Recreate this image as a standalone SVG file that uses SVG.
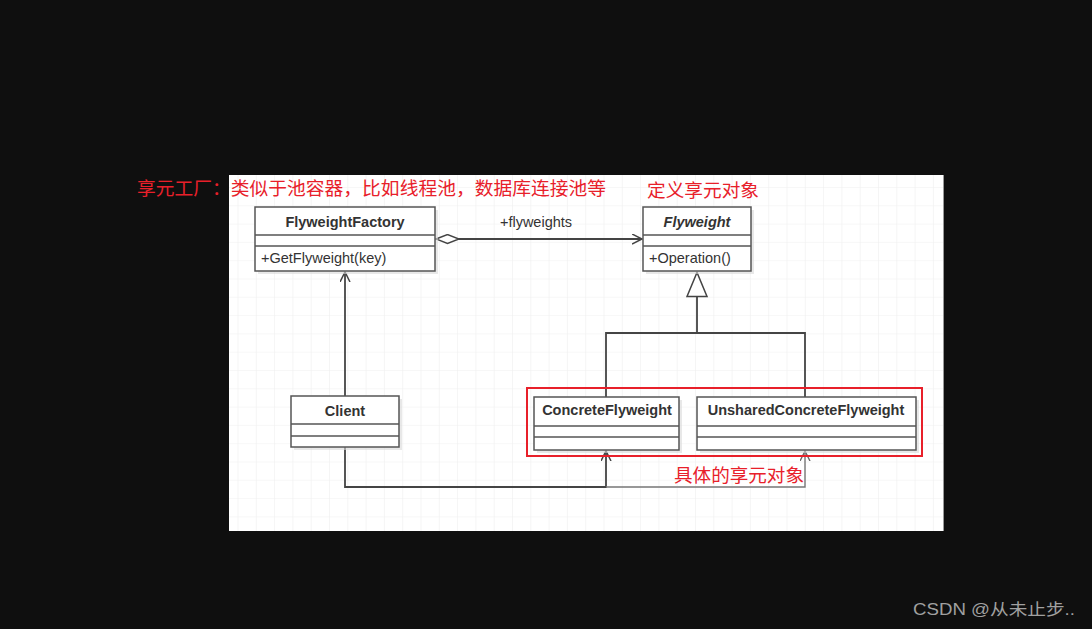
<svg xmlns="http://www.w3.org/2000/svg" width="1092" height="629" viewBox="0 0 1092 629">
  <style>
    .box { fill: #ffffff; stroke: #555555; stroke-width: 1.5; }
    .sep { stroke: #555555; stroke-width: 1.5; }
    .shadow { fill: #d8d8d8; opacity: 0.6; }
    .title { font-family: "Liberation Sans", Arial, sans-serif; font-size: 14.5px; font-weight: bold; fill: #333333; text-anchor: middle; }
    .member { font-family: "Liberation Sans", Arial, sans-serif; font-size: 14.5px; fill: #333333; }
    .note { font-family: "Noto Sans CJK SC", "Noto Sans", sans-serif; font-size: 18.5px; fill: #e8202a; }
    .conn { fill: none; stroke: #444444; stroke-width: 1.8; }
  </style>
  <defs>
    <pattern id="grid" x="237.5" y="187" width="18.3" height="18.3" patternUnits="userSpaceOnUse">
      <path d="M0,0 V18.3 M0,0 H18.3" fill="none" stroke="#efefef" stroke-width="1.2"/>
    </pattern>
    <marker id="openArrow" markerUnits="userSpaceOnUse" markerWidth="12" markerHeight="12" refX="10" refY="5" orient="auto">
      <path d="M0,0 L10,5 L0,10" fill="none" stroke="#444444" stroke-width="1.5"/>
    </marker>
    <marker id="openArrowLight" markerUnits="userSpaceOnUse" markerWidth="12" markerHeight="12" refX="10" refY="5" orient="auto">
      <path d="M0,0 L10,5 L0,10" fill="none" stroke="#666666" stroke-width="1.4"/>
    </marker>
    <marker id="diamond" markerUnits="userSpaceOnUse" markerWidth="26" markerHeight="12" refX="0" refY="5" orient="auto">
      <path d="M1,5 L12.5,0.5 L24,5 L12.5,9.5 Z" fill="#ffffff" stroke="#444444" stroke-width="1.4"/>
    </marker>
    <marker id="triangle" markerUnits="userSpaceOnUse" markerWidth="28" markerHeight="24" refX="25" refY="11" orient="auto">
      <path d="M1,1 L25,11 L1,21 Z" fill="#ffffff" stroke="#444444" stroke-width="1.5"/>
    </marker>
  </defs>

  <rect x="0" y="0" width="1092" height="629" fill="#0f0f0f"/>
  <rect x="229" y="175" width="715" height="356" fill="#ffffff"/>
  <rect x="229" y="175" width="715" height="356" fill="url(#grid)"/>
  <line x1="943.5" y1="175" x2="943.5" y2="531" stroke="#9a9a9a" stroke-width="1"/>

  <g id="connectors">
    <line class="conn" x1="435" y1="239" x2="642" y2="239" marker-start="url(#diamond)" marker-end="url(#openArrow)"/>
    <text class="member" x="536" y="227" text-anchor="middle">+flyweights</text>
    <path class="conn" d="M606,397 V333 H805 V397"/>
    <line class="conn" x1="697" y1="333" x2="697" y2="272.5" marker-end="url(#triangle)"/>
    <line class="conn" x1="345" y1="396" x2="345" y2="272" marker-end="url(#openArrow)"/>
    <path class="conn" d="M345,447 V487 H606 V451" marker-end="url(#openArrow)"/>
    <path d="M606,487 H805 V451" fill="none" stroke="#777777" stroke-width="1.4" marker-end="url(#openArrowLight)"/>
  </g>

  <g id="FlyweightFactory">
    <rect class="shadow" x="258" y="210" width="180" height="64"/>
    <rect class="box" x="255" y="207" width="180" height="64"/>
    <line class="sep" x1="255" y1="235" x2="435" y2="235"/>
    <line class="sep" x1="255" y1="246" x2="435" y2="246"/>
    <text class="title" x="345" y="227">FlyweightFactory</text>
    <text class="member" x="261" y="263">+GetFlyweight(key)</text>
  </g>

  <g id="Flyweight">
    <rect class="shadow" x="646" y="210" width="108" height="64"/>
    <rect class="box" x="643" y="207" width="108" height="64"/>
    <line class="sep" x1="643" y1="235" x2="751" y2="235"/>
    <line class="sep" x1="643" y1="246" x2="751" y2="246"/>
    <text class="title" x="697" y="227" font-style="italic">Flyweight</text>
    <text class="member" x="649" y="263">+Operation()</text>
  </g>

  <g id="Client">
    <rect class="shadow" x="294" y="399" width="108" height="51"/>
    <rect class="box" x="291" y="396" width="108" height="51"/>
    <line class="sep" x1="291" y1="424" x2="399" y2="424"/>
    <line class="sep" x1="291" y1="436" x2="399" y2="436"/>
    <text class="title" x="345" y="416">Client</text>
  </g>

  <g id="ConcreteFlyweight">
    <rect class="shadow" x="537" y="400" width="145" height="53"/>
    <rect class="box" x="534" y="397" width="145" height="53"/>
    <line class="sep" x1="534" y1="426" x2="679" y2="426"/>
    <line class="sep" x1="534" y1="437" x2="679" y2="437"/>
    <text class="title" x="607" y="415">ConcreteFlyweight</text>
  </g>

  <g id="UnsharedConcreteFlyweight">
    <rect class="shadow" x="700" y="400" width="219" height="53"/>
    <rect class="box" x="697" y="397" width="219" height="53"/>
    <line class="sep" x1="697" y1="426" x2="916" y2="426"/>
    <line class="sep" x1="697" y1="437" x2="916" y2="437"/>
    <text class="title" x="806" y="415">UnsharedConcreteFlyweight</text>
  </g>

  <g id="annotations">
    <rect x="527" y="388" width="395" height="68" fill="none" stroke="#e8202a" stroke-width="2"/>
    <text class="note" x="137" y="195" textLength="469" lengthAdjust="spacingAndGlyphs">享元工厂：类似于池容器，比如线程池，数据库连接池等</text>
    <text class="note" x="647" y="197" textLength="112" lengthAdjust="spacingAndGlyphs">定义享元对象</text>
    <text class="note" x="674" y="482" textLength="130" lengthAdjust="spacingAndGlyphs">具体的享元对象</text>
    <text x="913" y="615" font-family="'Liberation Sans', 'Noto Sans CJK SC', sans-serif" font-size="16" fill="#a0a0a0" textLength="162" lengthAdjust="spacingAndGlyphs">CSDN @从未止步..</text>
  </g>
</svg>
